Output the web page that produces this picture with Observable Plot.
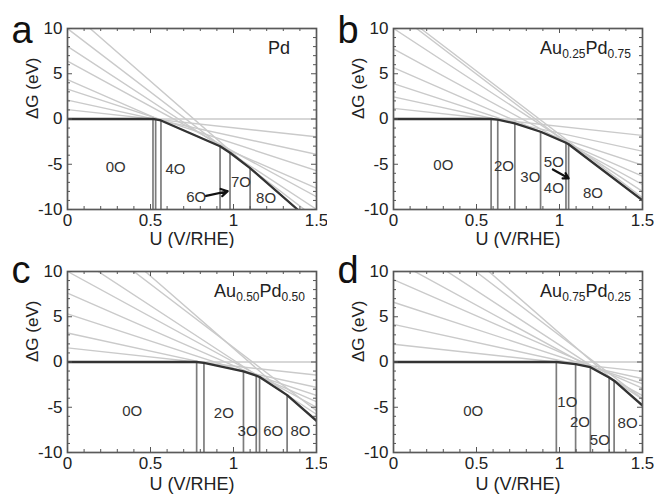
<!DOCTYPE html>
<html><head><meta charset="utf-8">
<script src="https://cdn.jsdelivr.net/npm/d3@7"></script>
<script src="https://cdn.jsdelivr.net/npm/@observablehq/plot@0.6"></script>
<style>
body{margin:0;background:#fff;}
#wrap{position:relative;width:654px;height:496px;overflow:hidden;background:#fff;}
#wrap svg{position:absolute;}
</style></head><body><div id="wrap"></div>
<script>
// ---------- data ----------
const panelLetters = ["a", "b", "c", "d"];
const titleElements = [["Pd"], ["Au", "Pd"], ["Au", "Pd"], ["Au", "Pd"]];
const titleSubscripts = [[""], ["0.25", "0.75"], ["0.50", "0.50"], ["0.75", "0.25"]];
const titleRightU = [1.34, 1.43, 1.43, 1.43];
const xTicks = [0, 0.5, 1, 1.5];
const yTicks = [-10, -5, 0, 5, 10];
const xMinorTicks = [0.1, 0.2, 0.3, 0.4, 0.6, 0.7, 0.8, 0.9, 1.1, 1.2, 1.3, 1.4];
const yMinorTicks = [-9, -8, -7, -6, -4, -3, -2, -1, 1, 2, 3, 4, 6, 7, 8, 9];
const uEnds = [0, 1.5];

// gray lines nO (n = 0..8): ΔG at U = 0 and at U = 1.5
const aLineG0  = [0, 1.03, 2.09, 3.3, 4.34, 6.4, 8.02, 9.98, 12.18];
const aLineG15 = [0, -1.97, -3.91, -5.7, -7.66, -8.6, -9.98, -11.02, -11.82];
const bLineG0  = [0, 1.18, 2.44, 3.91, 5.68, 7.76, 10.0, 12.3, 11.94];
const bLineG15 = [0, -1.82, -3.56, -5.09, -6.32, -7.24, -8.0, -8.7, -9.0];
const cLineG0  = [0, 1.556, 3.2, 5.32, 7.6, 10.0, 12.22, 15.6, 17.5];
const cLineG15 = [0, -1.44, -2.8, -3.68, -4.4, -5.0, -5.78, -5.4, -6.5];
const dLineG0  = [0, 1.96, 4.16, 6.6, 9.1, 11.28, 13.88, 16.94, 19.19];
const dLineG15 = [0, -1.04, -1.84, -2.4, -2.9, -3.72, -4.12, -4.06, -4.81];

// lowest-energy envelope
const aHullU = [0, 0.515, 0.531, 0.563, 0.919, 0.979, 1.10, 1.386];
const aHullG = [0, 0, -0.03, -0.16, -3.01, -3.73, -5.42, -10];
const bHullU = [0, 0.588, 0.628, 0.731, 0.886, 1.039, 1.055, 1.5];
const bHullG = [0, 0, -0.08, -0.48, -1.41, -2.63, -2.79, -9.0];
const cHullU = [0, 0.778, 0.822, 1.06, 1.137, 1.157, 1.323, 1.5];
const cHullG = [0, 0, -0.09, -1.04, -1.5, -1.66, -3.66, -6.5];
const dHullU = [0, 0.981, 1.097, 1.186, 1.299, 1.329, 1.5];
const dHullG = [0, 0, -0.23, -0.58, -1.71, -2.07, -4.81];

// transition potentials (vertical lines) and envelope value there
const aVertU = [0.515, 0.531, 0.563, 0.919, 0.979, 1.10];
const aVertG = [0, -0.03, -0.16, -3.01, -3.73, -5.42];
const bVertU = [0.588, 0.628, 0.731, 0.886, 1.039, 1.055];
const bVertG = [0, -0.08, -0.48, -1.41, -2.63, -2.79];
const cVertU = [0.778, 0.822, 1.06, 1.137, 1.157, 1.323];
const cVertG = [0, -0.09, -1.04, -1.5, -1.66, -3.66];
const dVertU = [0.981, 1.097, 1.186, 1.299, 1.329];
const dVertG = [0, -0.23, -0.58, -1.71, -2.07];

// region labels
const aLabText = ["0O", "4O", "6O", "7O", "8O"];
const aLabU = [0.29, 0.65, 0.775, 1.045, 1.196];
const aLabG = [-5.3, -5.5, -8.6, -6.95, -8.8];
const bLabText = ["0O", "2O", "3O", "5O", "4O", "8O"];
const bLabU = [0.30, 0.665, 0.824, 0.966, 0.966, 1.202];
const bLabG = [-5.1, -5.2, -6.46, -4.74, -7.68, -8.16];
const cLabText = ["0O", "2O", "3O", "6O", "8O"];
const cLabU = [0.39, 0.942, 1.085, 1.239, 1.403];
const cLabG = [-5.4, -5.7, -7.6, -7.6, -7.6];
const dLabText = ["0O", "1O", "2O", "5O", "8O"];
const dLabU = [0.48, 1.047, 1.123, 1.243, 1.41];
const dLabG = [-5.4, -4.4, -6.7, -8.6, -6.8];

// arrows [U1, G1, U2, G2]
const aArrow = [0.835, -8.5, 0.965, -7.98];
const bArrow = [0.96, -5.58, 1.055, -6.55];
const cArrow = null;
const dArrow = null;

// ---------- build ----------
const FONT = "'Liberation Sans', Arial, Helvetica, sans-serif";
const panelData = [
  {g0: aLineG0, g15: aLineG15, hu: aHullU, hg: aHullG, vu: aVertU, vg: aVertG, lt: aLabText, lu: aLabU, lg: aLabG, arrow: aArrow},
  {g0: bLineG0, g15: bLineG15, hu: bHullU, hg: bHullG, vu: bVertU, vg: bVertG, lt: bLabText, lu: bLabU, lg: bLabG, arrow: bArrow},
  {g0: cLineG0, g15: cLineG15, hu: cHullU, hg: cHullG, vu: cVertU, vg: cVertG, lt: cLabText, lu: cLabU, lg: cLabG, arrow: cArrow},
  {g0: dLineG0, g15: dLineG15, hu: dHullU, hg: dHullG, vu: dVertU, vg: dVertG, lt: dLabText, lu: dLabU, lg: dLabG, arrow: dArrow}
];
const boxes = [
  {left: 0,   top: 0,   ml: 67, mr: 11, mt: 28, mb: 39, xt: 35},
  {left: 327, top: 0,   ml: 66, mr: 12, mt: 28, mb: 39, xt: 35},
  {left: 0,   top: 248, ml: 67, mr: 11, mt: 23, mb: 44, xt: 37},
  {left: 327, top: 248, ml: 66, mr: 12, mt: 23, mb: 44, xt: 37}
];

const wrap = document.getElementById("wrap");
const NS = "http://www.w3.org/2000/svg";

panelData.forEach((p, k) => {
  const box = boxes[k];
  const lineRows = p.g0.flatMap((g, i) => [{U: uEnds[0], G: g, n: i}, {U: uEnds[1], G: p.g15[i], n: i}]);
  const hull = p.hu.map((u, i) => ({U: u, G: p.hg[i]}));
  const verts = p.vu.map((u, i) => ({U: u, top: p.vg[i]}));
  const labels = p.lt.map((t, i) => ({t, U: p.lu[i], G: p.lg[i]}));
  const titleStr = titleElements[k].map((e, i) => e + titleSubscripts[k][i]).join("");
  const plotH = 248 - box.mt - box.mb, plotW = 327 - box.ml - box.mr;
  const tyMinor = 3 * 20 / plotH, tyMajor = 5 * 20 / plotH;
  const txMinor = 3 * 1.5 / plotW, txMajor = 5 * 1.5 / plotW;
  const tickStyle = {stroke: "#555", strokeWidth: 1};
  const marks = [
    Plot.line(lineRows, {x: "U", y: "G", z: "n", stroke: "#cacaca", strokeWidth: 1.4, clip: true}),
    Plot.ruleX(verts, {x: "U", y1: -10, y2: "top", stroke: "#7c7c7c", strokeWidth: 1.7}),
    Plot.line(hull, {x: "U", y: "G", stroke: "#333", strokeWidth: 2.3, clip: true}),
    Plot.frame({stroke: "#5a5a5a", strokeWidth: 1.7}),
    Plot.ruleX(xMinorTicks, {x: d => d, y1: -10, y2: -10 + tyMinor, ...tickStyle}),
    Plot.ruleX(xMinorTicks, {x: d => d, y1: 10, y2: 10 - tyMinor, ...tickStyle}),
    Plot.ruleX(xTicks, {x: d => d, y1: -10, y2: -10 + tyMajor, ...tickStyle}),
    Plot.ruleX(xTicks, {x: d => d, y1: 10, y2: 10 - tyMajor, ...tickStyle}),
    Plot.ruleY(yMinorTicks, {y: d => d, x1: 0, x2: txMinor, ...tickStyle}),
    Plot.ruleY(yMinorTicks, {y: d => d, x1: 1.5, x2: 1.5 - txMinor, ...tickStyle}),
    Plot.ruleY(yTicks, {y: d => d, x1: 0, x2: txMajor, ...tickStyle}),
    Plot.ruleY(yTicks, {y: d => d, x1: 1.5, x2: 1.5 - txMajor, ...tickStyle}),
    Plot.text(labels, {x: "U", y: "G", text: "t", fontSize: 15, fill: "#333", fontFamily: FONT}),
    Plot.text([titleStr], {x: titleRightU[k], y: 7.8, text: d => d, textAnchor: "end", fontSize: 18, fill: "#222", fontFamily: FONT}),
    Plot.text([panelLetters[k]], {frameAnchor: "top-left", text: d => d, dx: -56, dy: k < 2 ? 14 : 11, fontSize: 38, textAnchor: "start", lineAnchor: "bottom", fill: "#111", fontFamily: FONT}),
    Plot.text(["U (V/RHE)"], {frameAnchor: "bottom", text: d => d, dy: box.xt, fontSize: 18, fill: "#222", fontFamily: FONT}),
    Plot.text(["ΔG (eV)"], {frameAnchor: "left", text: d => d, dx: -35, rotate: -90, fontSize: 17, fill: "#222", fontFamily: FONT})
  ];
  if (p.arrow) {
    marks.push(Plot.arrow([p.arrow], {x1: d => d[0], y1: d => d[1], x2: d => d[2], y2: d => d[3], stroke: "#111", strokeWidth: 2.2, headLength: 7}));
  }
  const svg = Plot.plot({
    width: 327, height: 248,
    marginLeft: box.ml, marginRight: box.mr, marginTop: box.mt, marginBottom: box.mb,
    style: {fontFamily: FONT, fontSize: "17px", color: "#222", background: "transparent"},
    x: {domain: [0, 1.5], ticks: xTicks, tickSize: 0, tickPadding: 4, tickFormat: d => String(d), label: null},
    y: {domain: [-10, 10], ticks: yTicks, tickSize: 0, tickPadding: 5, tickFormat: d => String(d), label: null},
    marks
  });
  svg.style.left = box.left + "px";
  svg.style.top = box.top + "px";
  // subscripts in the composition title
  svg.querySelectorAll("text").forEach(t => {
    if (t.textContent === titleStr && titleSubscripts[k].some(s => s)) {
      while (t.firstChild) t.removeChild(t.firstChild);
      let shifted = false;
      titleElements[k].forEach((el, i) => {
        const a = document.createElementNS(NS, "tspan");
        a.textContent = el;
        if (shifted) { a.setAttribute("dy", "-4"); shifted = false; }
        t.appendChild(a);
        const s = titleSubscripts[k][i];
        if (s) {
          const b = document.createElementNS(NS, "tspan");
          b.textContent = s;
          b.setAttribute("font-size", "12");
          b.setAttribute("dy", "4");
          t.appendChild(b);
          shifted = true;
        }
      });
    }
  });
  wrap.appendChild(svg);
});
</script>
</body></html>
